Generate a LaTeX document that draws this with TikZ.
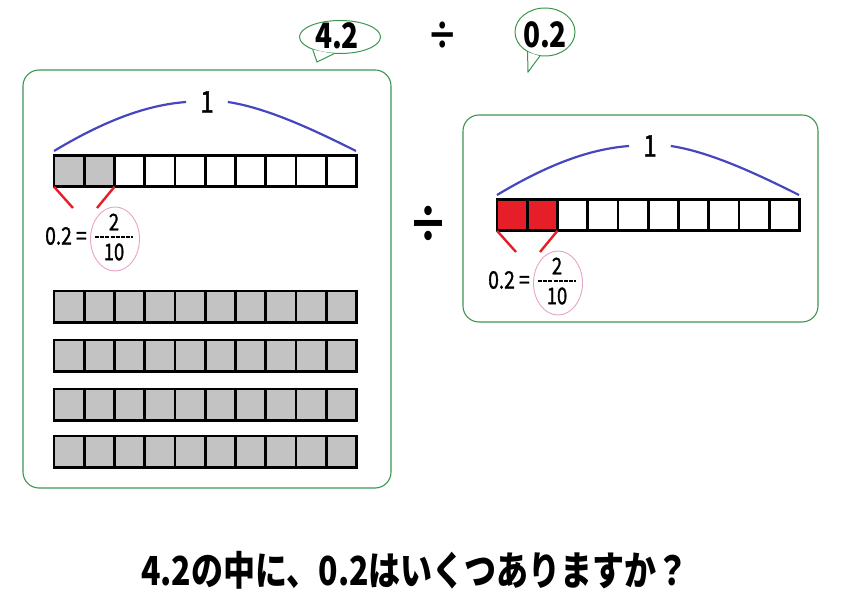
\documentclass[tikz,border=0pt]{standalone}
\usepackage{fontspec}
\usepackage{tikz}
\usetikzlibrary{shapes.geometric}
\newfontfamily\jpfont[FakeStretch=0.8]{Noto Sans CJK JP}
\newfontfamily\numfont[FakeStretch=0.8, FakeBold=1.2]{Noto Sans CJK JP}
\definecolor{boxgreen}{RGB}{60,150,80}
\definecolor{braceblue}{RGB}{70,70,190}
\definecolor{markred}{RGB}{230,30,40}
\definecolor{cellgray}{RGB}{195,195,195}
\definecolor{ringpink}{RGB}{230,165,200}

\tikzset{
  cell/.style={draw, line width=2.6pt, minimum width=30.25pt, minimum height=31.5pt, inner sep=0pt, outer sep=0pt},
  panel/.style={draw=boxgreen, line width=1.1pt, rounded corners=16pt},
  brace/.style={draw=braceblue, line width=2.2pt},
  redtick/.style={draw=markred, line width=2.4pt},
  bubble/.style={ellipse, draw=boxgreen, line width=1pt, inner sep=0pt},
  ring/.style={ellipse, draw=ringpink, line width=0.9pt, minimum width=49pt, minimum height=64pt},
  num/.style={font=\numfont\fontsize{#1}{#1}\selectfont, inner sep=0pt},
}

% one bar of ten tenths, two of them shaded, with its labels
\newcommand{\tenthbar}[2]{%
  \foreach \i in {1,...,10} {
    \ifnum\i<3 \colorlet{cellfill}{#2}\else\colorlet{cellfill}{white}\fi
    \node[cell, fill=cellfill] (#1c\i) at ({54+30.25*\i-15.125}, 171) {};
  }
  \node[num=30, inner xsep=14pt] (#1one) at (207,102) {1};
  \coordinate (#1tl) at (54,151);
  \coordinate (#1tr) at (356,151);
  \draw[brace] (#1tl) .. controls +(50,-30) and +(-40,3) .. (#1one.west);
  \draw[brace] (#1one.east) .. controls +(40,6) and +(-40,-20) .. (#1tr);
  \coordinate (#1ml) at (73,208);
  \coordinate (#1mr) at (97,208);
  \draw[redtick] (#1c1.south west) -- (#1ml);
  \draw[redtick] (#1c2.south east) -- (#1mr);
  \node[num=24] (#1eq) at (66,236) {0.2 =};
  \node[num=23] (#1num) at (114,222) {2};
  \node[num=23] (#1den) at (114,252) {10};
  \draw[line width=2pt, dash pattern=on 4pt off 1.2pt] (95,237) -- (133,237);
  \node[ring] (#1ring) at (115,239) {};
}

\begin{document}
\begin{tikzpicture}[x=1pt, y=-1pt]
\useasboundingbox (0,0) rectangle (845,601);

% the question
\node[bubble, minimum width=81pt, minimum height=33pt] (b42) at (340,37) {};
\coordinate (t42) at (317,62);
\draw[draw=boxgreen, line width=1pt, fill=white] (b42.205) -- (t42) -- (b42.250);
\node[num=35, font=\jpfont\bfseries\fontsize{35}{35}\selectfont] (n42) at (337,36) {4.2};
\node[font=\jpfont\bfseries\fontsize{38}{38}\selectfont, inner sep=0pt] (div1) at (443,36) {÷};
\node[bubble, minimum width=60pt, minimum height=48pt] (b02) at (545,32) {};
\coordinate (t02) at (528,72);
\draw[draw=boxgreen, line width=1pt, fill=white] (b02.229) -- (t02) -- (b02.258);
\node[num=35, font=\jpfont\bfseries\fontsize{35}{35}\selectfont] (n02) at (545,35) {0.2};

% left panel: 4.2
\draw[panel] (23,70) rectangle (391,488);
\begin{scope}
  \tenthbar{l}{cellgray}
\end{scope}
\foreach \r/\y in {a/291, b/340, c/389, d/436} {
  \foreach \i in {1,...,10}
    \node[cell, fill=cellgray] (\r\i) at ({54+30.25*\i-15.125}, \y+15.75) {};
}

\node[font=\jpfont\bfseries\fontsize{50}{50}\selectfont, inner sep=0pt] (div2) at (428,224) {÷};

% right panel: 0.2
\draw[panel] (463,115) rectangle (818,322);
\begin{scope}[shift={(443,44)}]
  \tenthbar{r}{markred}
\end{scope}

\node[font=\jpfont\bfseries\fontsize{40}{40}\selectfont, inner sep=0pt, anchor=base] (ask) at (415,585) {4.2の中に、0.2はいくつありますか？};
\end{tikzpicture}
\end{document}
